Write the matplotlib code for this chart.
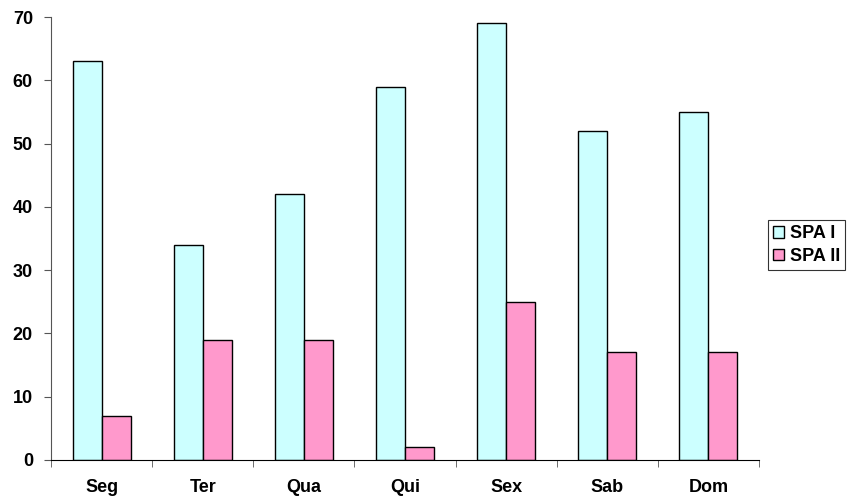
import numpy as np
import matplotlib.pyplot as plt

dias = ["Seg", "Ter", "Qua", "Qui", "Sex", "Sab", "Dom"]
spa1 = [63, 34, 42, 59, 69, 52, 55]
spa2 = [7, 19, 19, 2, 25, 17, 17]

plt.rcParams['font.family'] = ['Liberation Sans', 'DejaVu Sans']
plt.rcParams['font.weight'] = 'bold'

fig = plt.figure(figsize=(8.49, 4.99), dpi=100)
ax = fig.add_axes([51/849, 1 - 460/499, (759 - 51)/849, (460 - 17)/499])

x = np.arange(len(dias))
w = 0.287
ax.bar(x - w/2, spa1, w, color='#CCFFFF', edgecolor='black', linewidth=1.0, label='SPA I')
ax.bar(x + w/2, spa2, w, color='#FF99CC', edgecolor='black', linewidth=1.0, label='SPA II')

ax.set_xlim(-0.5, len(dias) - 0.5)
ax.set_ylim(0, 70)
ax.set_yticks(range(0, 71, 10))
ax.set_xticks(x)
ax.set_xticklabels(dias)
ax.set_xticks(np.arange(-0.5, len(dias), 1), minor=True)
ax.tick_params(axis='x', which='major', length=0, pad=14, labelsize=13)
ax.tick_params(axis='x', which='minor', length=5, direction='out', color='#555555')
ax.tick_params(axis='y', length=5, direction='out', labelsize=13, pad=8, color='#555555')

for s in ['top', 'right']:
    ax.spines[s].set_visible(False)
ax.spines['left'].set_color('#555555')
ax.spines['bottom'].set_color('black')

leg = ax.legend(loc='center left', bbox_to_anchor=(768/849, 1 - 245/499),
                bbox_transform=fig.transFigure, frameon=True, fancybox=False,
                fontsize=13, handlelength=0.6, handleheight=0.6,
                handletextpad=0.3, borderpad=0.3, labelspacing=0.3,
                borderaxespad=0)
leg.get_frame().set_edgecolor('black')
leg.get_frame().set_linewidth(0.8)

fig.savefig('out.png', dpi=100)
